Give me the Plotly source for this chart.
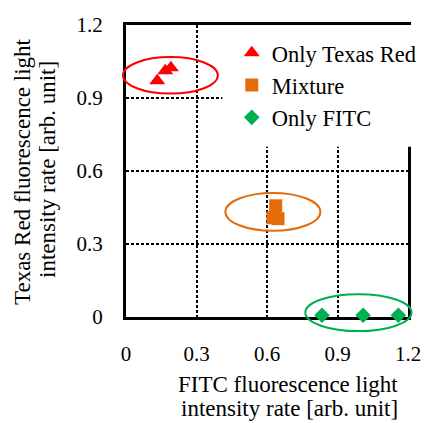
import plotly.graph_objects as go

# ---- data ----
tick_vals = [0, 0.3, 0.6, 0.9, 1.2]
tick_labels = ["0", "0.3", "0.6", "0.9", "1.2"]

texas_x = [0.133, 0.167, 0.191]
texas_y = [0.971, 1.012, 1.024]

mix_x = [0.637, 0.625, 0.647]
mix_y = [0.457, 0.408, 0.404]

fitc_x = [0.834, 1.009, 1.159]
fitc_y = [0.007, 0.007, 0.007]

series_names = ["Only Texas Red", "Mixture", "Only FITC"]
series_colors = ["#FF0000", "#E46C0A", "#00B050"]

# ellipse annotations (center x, center y, radius x, radius y) in data units
ellipses = [
    (0.189, 0.993, 0.202, 0.075),
    (0.625, 0.432, 0.202, 0.078),
    (0.989, 0.018, 0.226, 0.076),
]

AX_MAX = 1.2
FONT = "Liberation Serif"

fig = go.Figure()
fig.add_trace(go.Scatter(x=texas_x, y=texas_y, mode="markers", name=series_names[0],
                         marker=dict(symbol="triangle-up", size=14, color=series_colors[0]),
                         cliponaxis=False, legendgroup="a"))
fig.add_trace(go.Scatter(x=mix_x, y=mix_y, mode="markers", name=series_names[1],
                         marker=dict(symbol="square", size=13, color=series_colors[1]),
                         cliponaxis=False, legendgroup="b"))
fig.add_trace(go.Scatter(x=fitc_x, y=fitc_y, mode="markers", name=series_names[2],
                         marker=dict(symbol="diamond", size=12, color=series_colors[2]),
                         cliponaxis=False, legendgroup="c"))

shapes = []
for (cx, cy, rx, ry), col in zip(ellipses, series_colors):
    shapes.append(dict(type="circle", xref="x domain", yref="y domain",
                       x0=(cx - rx) / AX_MAX, x1=(cx + rx) / AX_MAX,
                       y0=(cy - ry) / AX_MAX, y1=(cy + ry) / AX_MAX,
                       line=dict(color=col, width=2), layer="above"))
# white legend background box covering the grid
shapes.append(dict(type="rect", xref="x domain", yref="y domain",
                   x0=0.41 / AX_MAX, x1=1.04, y0=0.70 / AX_MAX, y1=1.0,
                   fillcolor="white", line=dict(width=0), layer="above"))

axis_common = dict(range=[0, AX_MAX], tickvals=tick_vals, ticktext=tick_labels,
                   showgrid=True, gridcolor="black", gridwidth=2, griddash="3px,2px",
                   showline=True, linecolor="black", linewidth=3, mirror=True,
                   zeroline=False, ticks="", layer="below traces",
                   tickfont=dict(family=FONT, size=21, color="black"),
                   ticklabelstandoff=16, fixedrange=True)

fig.update_layout(
    width=429, height=423,
    margin=dict(l=126, r=21, t=25, b=106, autoexpand=False),
    paper_bgcolor="white", plot_bgcolor="white",
    xaxis=axis_common, yaxis=axis_common,
    shapes=shapes,
    showlegend=True,
    legend=dict(x=0.375, y=0.977, xanchor="left", yanchor="top",
                bgcolor="rgba(0,0,0,0)", font=dict(family=FONT, size=22.5, color="black"),
                tracegroupgap=0),
    annotations=[
        dict(text="FITC fluorescence light", xref="paper", yref="paper",
             x=(288 - 126) / 282, y=(317 - 384) / 292, xanchor="center", yanchor="middle",
             showarrow=False, font=dict(family=FONT, size=23, color="black")),
        dict(text="intensity rate [arb. unit]", xref="paper", yref="paper",
             x=(289 - 126) / 282, y=(317 - 408) / 292, xanchor="center", yanchor="middle",
             showarrow=False, font=dict(family=FONT, size=23, color="black")),
        dict(text="Texas Red fluorescence light", xref="paper", yref="paper",
             x=(22 - 126) / 282, y=(317 - 172) / 292, xanchor="center", yanchor="middle",
             textangle=-90, showarrow=False, font=dict(family=FONT, size=23, color="black")),
        dict(text="intensity rate [arb. unit]", xref="paper", yref="paper",
             x=(47 - 126) / 282, y=(317 - 170) / 292, xanchor="center", yanchor="middle",
             textangle=-90, showarrow=False, font=dict(family=FONT, size=23, color="black")),
    ],
)

fig.write_html("out.html", config={"displayModeBar": False},
               post_script="document.body.style.margin='0';")
